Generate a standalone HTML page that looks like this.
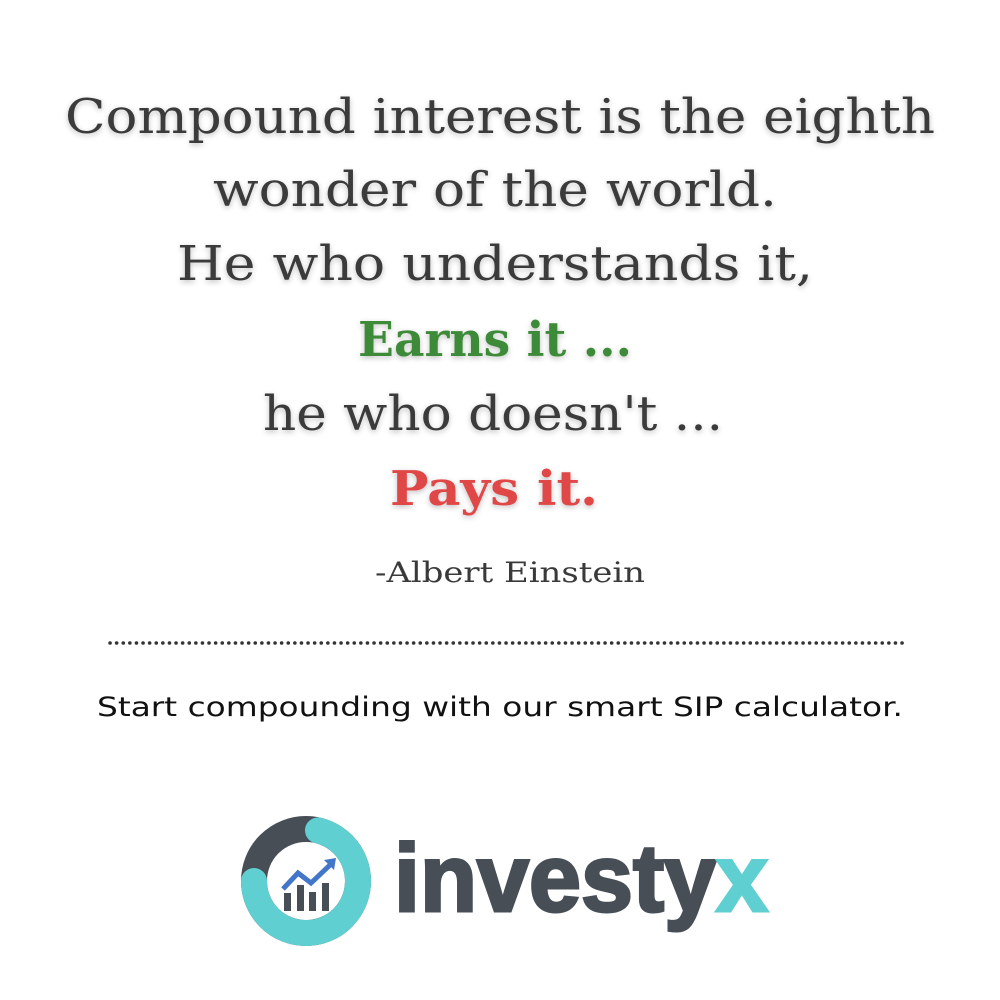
<!DOCTYPE html>
<html><head><meta charset="utf-8"><style>
html,body{margin:0;padding:0;background:#fff;}
svg{display:block;}
.q{font-family:"DejaVu Serif","Liberation Serif",serif;fill:#3b3a3a;font-size:48px;}
.b{font-family:"DejaVu Serif","Liberation Serif",serif;font-weight:bold;font-size:48px;}
.s{font-family:"DejaVu Sans","Liberation Sans",sans-serif;font-size:27px;fill:#111;}
</style></head><body>
<svg width="1000" height="1000" viewBox="0 0 1000 1000">
<defs><filter id="sh" x="-10%" y="-30%" width="120%" height="160%"><feGaussianBlur in="SourceAlpha" stdDeviation="3"/><feOffset dx="0" dy="2"/><feComponentTransfer><feFuncA type="linear" slope="0.25"/></feComponentTransfer><feMerge><feMergeNode/><feMergeNode in="SourceGraphic"/></feMerge></filter></defs>
<rect width="1000" height="1000" fill="#fff"/>
<g filter="url(#sh)">
<text class="q" x="65" y="133" textLength="870" lengthAdjust="spacingAndGlyphs">Compound interest is the eighth</text>
<text class="q" x="213" y="206" textLength="564" lengthAdjust="spacingAndGlyphs">wonder of the world.</text>
<text class="q" x="177" y="280" textLength="636" lengthAdjust="spacingAndGlyphs">He who understands it,</text>
<text class="b" x="358" y="356" fill="#3d8b37" textLength="274" lengthAdjust="spacingAndGlyphs">Earns it ...</text>
<text class="q" x="263" y="430" textLength="460" lengthAdjust="spacingAndGlyphs">he who doesn't ...</text>
<text class="b" x="390" y="505" fill="#e04646" textLength="208" lengthAdjust="spacingAndGlyphs">Pays it.</text>
</g>
<text class="q" x="375" y="582" style="font-size:28px" textLength="270" lengthAdjust="spacingAndGlyphs">-Albert Einstein</text>
<line x1="110" y1="643" x2="905" y2="643" stroke="#333" stroke-width="3.5" stroke-dasharray="0.1 6.5" stroke-linecap="round"/>
<text class="s" x="97" y="716" textLength="806" lengthAdjust="spacingAndGlyphs">Start compounding with our smart SIP calculator.</text>
<g>
<circle cx="306" cy="881" r="52" fill="none" stroke="#474e56" stroke-width="26"/>
<path d="M 318 830.4 A 52 52 0 1 1 254 881" fill="none" stroke="#5fcfd1" stroke-width="26" stroke-linecap="round"/>
<rect x="284" y="893" width="7" height="18" fill="#474e56"/>
<rect x="297" y="885" width="7" height="26" fill="#474e56"/>
<rect x="309" y="892" width="7" height="19" fill="#474e56"/>
<rect x="322" y="883" width="7" height="28" fill="#474e56"/>
<polyline points="283,889 298,873 311,883 331,864" fill="none" stroke="#4276c8" stroke-width="5"/>
<polygon points="324,860 336,858 334,870" fill="#4276c8"/>
</g>
<text x="394" y="911" font-family="Liberation Sans, sans-serif" font-weight="bold" font-size="96" stroke-width="3" textLength="374" lengthAdjust="spacingAndGlyphs"><tspan fill="#474e56" stroke="#474e56">investy</tspan><tspan fill="#5fcfd1" stroke="#5fcfd1">x</tspan></text>
</svg>
</body></html>
